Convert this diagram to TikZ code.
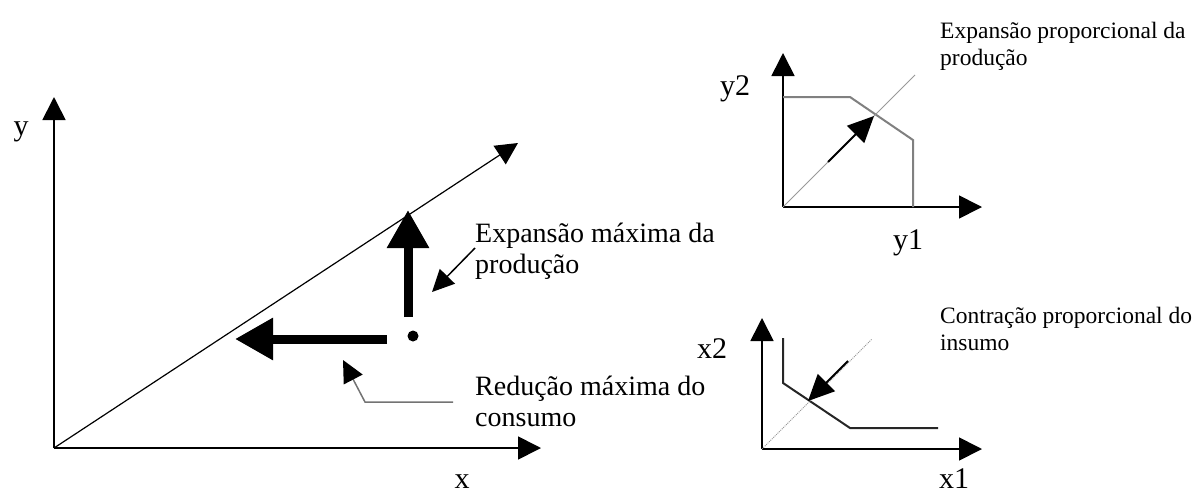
\documentclass[tikz,border=0pt]{standalone}
\usepackage{fontspec}
\setmainfont{Liberation Serif}
\usepackage{xcolor}
\usetikzlibrary{arrows.meta}

\begin{document}
\begin{tikzpicture}[
  x=1pt, y=-1pt,
  every node/.style={inner sep=0pt},
  ax/.style={draw=black, line width=1.7pt, -{Triangle[length=23pt,width=23pt]}},
  ray/.style={draw=black, line width=1.2pt, -{Triangle[length=22pt,width=22pt]}},
  inr/.style={draw=black, line width=2pt, -{Triangle[length=26pt,width=24pt]}},
  big/.style={draw=black, line width=9pt, -{Triangle[length=38pt,width=40pt]}},
  ptr/.style={draw=black, line width=1.5pt, -{Triangle[length=22pt,width=21pt,color=black]}},
  lab/.style={font=\fontsize{30}{33}\selectfont, anchor=base},
  txt/.style={font=\fontsize{28}{31}\selectfont, anchor=base west, align=left},
  sml/.style={font=\fontsize{23.5}{27}\selectfont, anchor=base west, align=left},
  diag/.style={draw=black!40, line width=1pt},
  frt/.style={line width=2pt},
]
\useasboundingbox (0,0) rectangle (1194,493);

% ---- main plot ----
\coordinate (o)    at (54,448);
\coordinate (ytip) at (54,97);
\coordinate (xtip) at (541,448);
\coordinate (dtip) at (518,143);
\draw[ax] (o) -- (ytip);
\draw[ax] (o) -- (xtip);
\draw[ray] (o) -- (dtip);
\node[lab] (ly) at (21,135) {y};
\node[lab] (lx) at (462,488) {x};

\node[circle, fill=black, minimum size=11pt] (pt) at (413,336) {};
\coordinate (vs) at (408,317);
\coordinate (vt) at (408,210);
\coordinate (hs) at (387,339);
\coordinate (ht) at (235,339);
\draw[big] (vs) -- (vt);
\draw[big] (hs) -- (ht);

% (base = last line)
\node[txt] (expmax) at (475,273) {Expansão máxima da\\produção};
\node[txt] (redmax) at (475,426) {Redução máxima do\\consumo};
\coordinate (e1) at (475,248);
\coordinate (e2) at (432,292);
\draw[ptr] (e1) -- (e2);
\coordinate (r1) at (453,402);
\coordinate (r2) at (365,402);
\coordinate (r3) at (343,360);
\draw[ptr, draw=black!55] (r1) -- (r2) -- (r3);

% ---- top right: output ----
\coordinate (oy)  at (783,207);
\coordinate (y2t) at (783,53);
\coordinate (y1t) at (982,207);
\draw[ax] (oy) -- (y2t);
\draw[ax] (oy) -- (y1t);
\draw[frt, draw=black!50] (783,97) -- (850,97) -- (913,140) -- (913,207);
\coordinate (yr) at (915,75);
\draw[diag] (oy) -- (yr);
\coordinate (ya1) at (828,162);
\coordinate (ya2) at (874,116);
\draw[inr] (ya1) -- (ya2);
\node[lab] (ly2) at (735,95)  {y2};
\node[lab] (ly1) at (908,249) {y1};
\node[sml] (expprop) at (940,65) {Expansão proporcional da\\produção};

% ---- bottom right: input ----
\coordinate (ox)  at (762,449);
\coordinate (x2t) at (762,318);
\coordinate (x1t) at (982,449);
\draw[ax] (ox) -- (x2t);
\draw[ax] (ox) -- (x1t);
\draw[frt, draw=black!85] (783,338) -- (783,383) -- (850,428) -- (938,428);
\coordinate (xr) at (872,339);
\draw[diag, densely dotted] (ox) -- (xr);
\coordinate (xa1) at (848,361);
\coordinate (xa2) at (808,401);
\draw[inr] (xa1) -- (xa2);
\node[lab] (lx2) at (712,358) {x2};
\node[lab] (lx1) at (954,488) {x1};
\node[sml] (contrprop) at (940,350) {Contração proporcional do\\insumo};

\end{tikzpicture}
\end{document}
